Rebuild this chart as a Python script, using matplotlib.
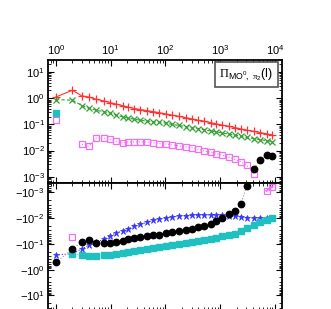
import numpy as np
import matplotlib
matplotlib.use("Agg")
import matplotlib.pyplot as plt
from matplotlib.ticker import FuncFormatter, LogLocator, NullFormatter

plt.rcParams["font.family"] = ["Liberation Sans", "DejaVu Sans"]
plt.rcParams["mathtext.fontset"] = "custom"
plt.rcParams["mathtext.rm"] = "Liberation Sans"
plt.rcParams["mathtext.it"] = "Liberation Sans:italic"
plt.rcParams["mathtext.bf"] = "Liberation Serif"

# distance l
l = [1, 2, 3, 4, 5.5, 7.5, 9.7, 12.4, 16.5, 21, 27, 35, 46, 60, 77, 102, 132,
     176, 233, 307, 395, 508, 665, 855, 1100, 1435, 1845, 2377, 3055, 4160,
     5280, 7000, 9000]

# log10 of the values (nan = not shown)
red_log = [0.05, 0.31, 0.09, 0.05, -0.04, -0.10, -0.16, -0.22, -0.28, -0.34,
           -0.39, -0.43, -0.47, -0.51, -0.55, -0.60, -0.65, -0.69, -0.74,
           -0.79, -0.84, -0.88, -0.93, -0.98, -1.03, -1.07, -1.12, -1.17,
           -1.22, -1.27, -1.31, -1.36, -1.41]
green_log = [-0.05, -0.07, -0.28, -0.38, -0.46, -0.51, -0.57, -0.64, -0.71,
             -0.76, -0.80, -0.84, -0.87, -0.90, -0.92, -0.95, -1.00, -1.04,
             -1.08, -1.12, -1.16, -1.20, -1.25, -1.29, -1.33, -1.37, -1.41,
             -1.45, -1.50, -1.54, -1.58, -1.62, -1.66]
# positive part (top panel)
pink_pos_log = [-0.84, np.nan, -1.76, -1.84, -1.51, -1.53, -1.57, -1.64,
                -1.71, -1.67, -1.67, -1.67, -1.67, -1.70, -1.74, -1.75,
                -1.78, -1.82, -1.86, -1.90, -1.95, -2.02, -2.06, -2.12,
                -2.18, -2.26, -2.34, -2.43, -2.57, -2.91, np.nan, np.nan,
                np.nan]
# negative part, log10 of magnitude (bottom panel)
pink_neg_log = [np.nan, -1.26] + [np.nan] * 29 + [-3.06, -3.21]
cyan_pos_log = [-0.55] + [np.nan] * 32
cyan_neg_log = [np.nan, -0.61, -0.57, -0.52, -0.535, -0.55, -0.57, -0.60,
                -0.64, -0.68, -0.73, -0.75, -0.79, -0.83, -0.86, -0.90,
                -0.94, -0.99, -1.03, -1.07, -1.11, -1.16, -1.20, -1.24,
                -1.29, -1.33, -1.39, -1.50, -1.63, -1.73, -1.84, -1.91, -1.99]
black_pos_log = [np.nan] * 29 + [-2.69, -2.38, -2.18, -2.20]
black_neg_log = [-0.285, -0.79, -1.09, -1.14, -1.04, -1.02, -1.04, -1.07,
                 -1.12, -1.17, -1.21, -1.25, -1.30, -1.33, -1.35, -1.41,
                 -1.46, -1.50, -1.54, -1.59, -1.65, -1.69, -1.78, -1.89,
                 -2.02, -2.15, -2.28, -2.54, -3.24] + [np.nan] * 4
blue_neg_log = [-0.57, -0.62, -0.81, -0.94, -1.06, -1.18, -1.30, -1.42,
                -1.51, -1.59, -1.68, -1.75, -1.84, -1.91, -1.96, -2.00,
                -2.04, -2.07, -2.09, -2.10, -2.11, -2.12, -2.12, -2.11,
                -2.10, -2.08, -2.06, -2.05, -2.02, -2.00, -1.99, -1.99, -2.00]

label = r"$\mathbf{\Pi}_{\mathrm{MO}^{0},\ \mathbf{\pi}_{2}}\mathrm{(l)}$"


def p(a):
    return 10.0 ** np.array(a, dtype=float)


fig = plt.figure(figsize=(3.31, 3.09), dpi=100)
ax = fig.add_axes([0.144, 0.408, 0.708, 0.398])
ax2 = fig.add_axes([0.144, -0.003, 0.708, 0.411])

# top panel: positive values
ax.plot(l, p(red_log), "-", color="#ff3333", lw=0.8, marker="+", ms=6, mew=0.9)
ax.plot(l, p(green_log), "--", color="#33a033", lw=0.8, marker="x", ms=4.5,
        mew=0.9, dashes=(3, 2))
ax.plot(l, p(pink_pos_log), ":", color="#f070f0", lw=0.8, marker="s", ms=4.3,
        mfc="none", mew=0.9)
ax.plot(l, p(cyan_pos_log), "none", color="#20c0c0", marker="s", ms=4.3)
ax.plot(l, p(black_pos_log), ":", color="#999999", lw=0.8, marker="o", ms=4.6,
        mfc="black", mec="black")

# bottom panel: negative values, drawn as magnitudes
ax2.plot(l, p(blue_neg_log), ":", color="#3535ff", lw=0.8, marker="*", ms=5,
         mew=0.5)
ax2.plot(l, p(cyan_neg_log), ":", color="#20c0c0", lw=0.6, marker="s", ms=4.3)
ax2.plot(l, p(black_neg_log), ":", color="#999999", lw=0.8, marker="o",
         ms=4.6, mfc="black", mec="black")
ax2.plot(l, p(pink_neg_log), "none", color="#f070f0", marker="s", ms=4.3,
         mfc="none", mew=0.9)

for a in (ax, ax2):
    a.set_xscale("log")
    a.set_yscale("log")
    a.set_xlim(10 ** -0.15, 10 ** 4.128)
    a.xaxis.set_major_locator(LogLocator(base=10, numticks=10))
    a.xaxis.set_minor_locator(LogLocator(base=10, subs=np.arange(2, 10),
                                         numticks=20))
    a.yaxis.set_major_locator(LogLocator(base=10, numticks=10))
    a.yaxis.set_minor_locator(LogLocator(base=10, subs=np.arange(2, 10),
                                         numticks=20))
    a.tick_params(which="both", direction="in", top=True, bottom=True,
                  left=True, right=True, labelsize=8, pad=2)
    a.tick_params(which="major", length=4, width=0.8)
    a.tick_params(which="minor", length=2, width=0.6)
    for s in a.spines.values():
        s.set_linewidth(1.3)

ax.set_ylim(10 ** -3.24, 10 ** 1.47)
ax.tick_params(labeltop=True, labelbottom=False)
ax.yaxis.set_minor_formatter(NullFormatter())

ax2.set_ylim(10 ** 1.56, 10 ** -3.36)
ax2.tick_params(labeltop=False, labelbottom=False)
ax2.yaxis.set_major_formatter(FuncFormatter(
    lambda v, pos: r"$\mathdefault{-10^{%d}}$" % round(np.log10(v))))
ax2.yaxis.set_minor_formatter(NullFormatter())

ax.text(0.847, 0.882, label, transform=ax.transAxes, ha="center",
        va="center", fontsize=9,
        bbox=dict(boxstyle="square,pad=0.35", fc="white", ec="#555555",
                  lw=1.2))

fig.savefig("out.png", dpi=100)
